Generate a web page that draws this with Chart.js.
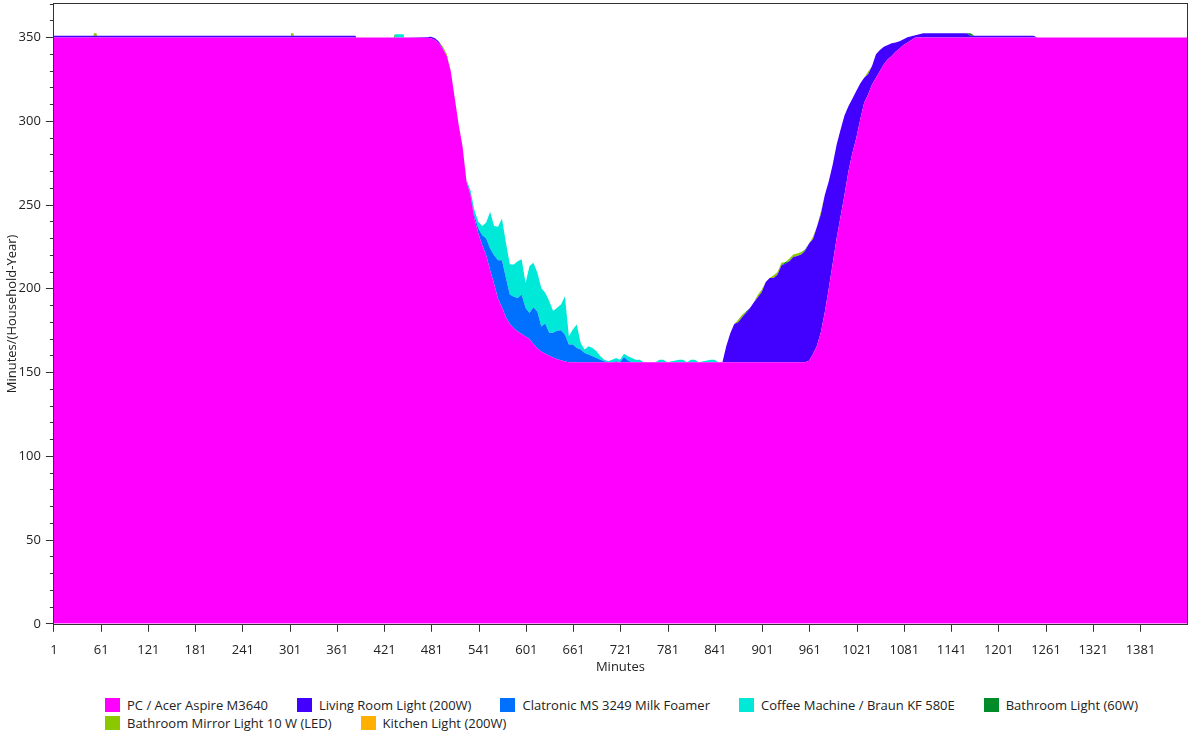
<!DOCTYPE html>
<html>
<head>
<meta charset="utf-8">
<script src="https://cdn.jsdelivr.net/npm/chart.js@4.4.1/dist/chart.umd.min.js"></script>
<style>
    body { margin: 0; background: #fff; font-family: "Open Sans", sans-serif; }
    #wrap { position: relative; width: 1188px; height: 679px; }
    #legend {
        position: absolute; top: 698px; left: 105px; width: 1080px;
        display: flex; flex-wrap: wrap; column-gap: 29px; row-gap: 3.5px;
        font-size: 13px; color: #222;
    }
    .item { display: flex; align-items: center; height: 14px; white-space: nowrap; }
    .box { width: 15px; height: 14px; margin-right: 7px; }
</style>
</head>
<body>
<div id="wrap"><canvas id="usageChart"></canvas></div>
<div id="legend"></div>

<script>
// Dakika noktaları (okunan değerler bu dakikalarda)
const minutes = [
    1, 51, 52, 55, 56, 301, 302, 305, 306, 384, 385, 433, 434, 445, 446, 476,
    480, 485, 490, 495, 500, 505, 510, 515, 520, 525,
    530, 535, 540, 545, 550, 555, 560, 565, 570, 575,
    580, 585, 590, 595, 600, 605, 610, 615, 620, 625,
    630, 635, 640, 645, 650, 655, 660, 665, 670, 675,
    680, 685, 690, 695, 700, 705, 710, 715, 720, 725,
    730, 735, 740, 745, 750,
    755, 760, 765, 770, 775, 780, 795, 800, 805, 810, 815, 820, 835, 840, 845,
    850, 855, 860, 865, 870, 875, 880, 885, 890, 895,
    900, 905, 910, 915, 920, 925, 930, 935, 940, 945,
    950, 955, 960, 965, 970, 975, 980, 985, 990, 995,
    1000, 1005, 1010, 1015, 1020, 1025, 1030, 1035, 1040, 1045,
    1050, 1055, 1060, 1065, 1070, 1075, 1080, 1085, 1090, 1095,
    1100,
    1105, 1160, 1165, 1170, 1245, 1250, 1440
];

const pcAcer = [
    350, 350, 350, 350, 350, 350, 350, 350, 350, 350, 350, 350, 350, 350, 350, 349.8,
    349.5, 348.5, 346.5, 343, 339, 330, 314, 298, 285, 264,
    256, 242, 233, 226, 220, 211, 203, 194, 189, 183,
    179, 176.5, 174.5, 173, 171.5, 170, 167, 164.5, 162.5, 161.2,
    160, 159, 158, 157.3, 156.6, 156.2, 156.2, 156.2, 156.2, 156.2,
    156.2, 156.2, 156.2, 156.2, 156.2, 156.2, 156.2, 156.2, 156.2, 156.2,
    156.2, 156.2, 156.2, 156.2, 156.2,
    156.2, 156.2, 156.2, 156.2, 156.2, 156.2, 156.2, 156.2, 156.2, 156.2, 156.2, 156.2, 156.2, 156.2, 156.2,
    156.2, 156.2, 156.2, 156.2, 156.2, 156.2, 156.2, 156.2, 156.2, 156.2,
    156.2, 156.2, 156.2, 156.2, 156.2, 156.2, 156.2, 156.2, 156.2, 156.2,
    156.2, 156.2, 157, 161, 166, 174, 186, 200, 215, 230,
    243, 256, 270, 281, 290, 301, 311, 316, 322, 326,
    330, 334, 337, 339, 341.5, 343.5, 345.5, 347, 348.5, 350,
    350,
    350, 350, 350, 350, 350, 350, 350
];

const livingRoomLight = [
    1, 1, 1, 1, 1, 1, 1, 1, 1, 1, 0, 0, 0, 0, 0, 0.5,
    1, 1, 1, 0.5, 0, 0, 0, 0, 0, 0,
    0, 0, 0, 0, 0, 0, 0, 0, 0, 0,
    0, 0, 0, 0, 0, 0, 0, 0, 0, 0,
    0, 0, 0, 0, 0, 0, 0, 0, 0, 0,
    0, 0, 0, 0, 0, 0, 0, 0, 0, 0,
    0, 0, 0, 0, 0,
    0, 0, 0, 0, 0, 0, 0, 0, 0, 0, 0, 0, 0, 0, 0,
    0, 9.8, 17.3, 22.8, 23.8, 26.8, 29.3, 32.3, 35.8, 38.8,
    41.8, 47.8, 50.3, 50.3, 52.3, 57.8, 58.8, 60.3, 62.8, 63.3,
    64.3, 66.3, 70, 68.5, 71, 70.5, 70, 64, 59, 56,
    52, 47.5, 39, 32.5, 28, 21.5, 15, 12, 11, 14,
    12.5, 10.5, 8.5, 7.5, 5.5, 4.3, 3.5, 3.2, 2.3, 1.4,
    2,
    2.6, 2.6, 1, 1, 1, 0, 0
];

const milkFoamer = [
    0, 0, 0, 0, 0, 0, 0, 0, 0, 0, 0, 0, 0, 0, 0, 0,
    0, 0, 0, 0, 0, 0, 0, 0, 0, 0,
    1, 2, 3, 6, 10, 13, 17, 23, 28, 23.6,
    17.6, 18.7, 20, 23.6, 17, 15.6, 22, 22, 15, 18,
    13.7, 14.7, 17, 18, 16, 10.5, 10.5, 8.5, 7.5, 5.5,
    4.5, 3.5, 2.5, 1.5, 0.5, 0, 0, 0.5, 0, 3,
    1, 0, 0, 0, 0,
    0, 0, 0, 0, 0, 0, 0, 0, 0, 0, 0, 0, 0, 0, 0,
    0, 0, 0, 0, 0, 0, 0, 0, 0, 0,
    0, 0, 0, 0, 0, 0, 0, 0, 0, 0,
    0, 0, 0, 0, 0, 0, 0, 0, 0, 0,
    0, 0, 0, 0, 0, 0, 0, 0, 0, 0,
    0, 0, 0, 0, 0, 0, 0, 0, 0, 0,
    0,
    0, 0, 0, 0, 0, 0, 0
];

const coffeeMachine = [
    0, 0, 0, 0, 0, 0, 0, 0, 0, 0, 0, 0, 2, 2, 0, 0,
    0, 0, 0, 0, 0, 0, 0, 0, 0, 1,
    2, 3, 4, 5.5, 9.5, 22, 17.5, 20, 25, 21,
    18, 19.3, 22, 21, 15, 28, 26.5, 23, 23, 18.4,
    19, 13, 13.6, 15.3, 23, 5, 9, 14, 4, 2,
    5, 5, 4, 2, 1, 0.5, 1.5, 2, 1.5, 2,
    2.5, 2.5, 1.5, 1.5, 0,
    0, 0, 0, 1.5, 1.5, 0, 1.5, 1.5, 0, 1.5, 1.5, 0, 1.5, 1.5, 0,
    0, 0, 0, 0, 0, 0, 0, 0, 0, 0,
    0, 0, 0, 0, 0, 0, 0, 0, 0, 0,
    0, 0, 0, 0, 0, 0, 0, 0, 0, 0,
    0, 0, 0, 0, 0, 0, 0, 0, 0, 0,
    0, 0, 0, 0, 0, 0, 0, 0, 0, 0,
    0,
    0, 0, 0, 0, 0, 0, 0
];

const bathroomLight = [
    0, 0, 0, 0, 0, 0, 0, 0, 0, 0, 0, 0, 0, 0, 0, 0,
    0, 0, 0, 0, 0, 0, 0, 0, 0, 0,
    0, 0, 0, 0, 0, 0, 0, 0, 0, 0,
    0, 0, 0, 0, 0, 0, 0, 0, 0, 0,
    0, 0, 0, 0, 0, 0, 0, 0, 0, 0,
    0, 0, 0, 0, 0, 0, 0, 0, 0, 0,
    0, 0, 0, 0, 0,
    0, 0, 0, 0, 0, 0, 0, 0, 0, 0, 0, 0, 0, 0, 0,
    0, 0, 0, 0, 0, 0, 1, 0, 0, 0,
    0, 0, 0, 0, 0, 0, 1, 0, 0, 0,
    0, 1, 0, 0, 0, 0, 0, 0, 0, 0,
    0, 0, 0, 0, 0, 0, 0, 0, 0, 0,
    0, 0, 0, 0, 0, 0, 0, 0, 0, 0,
    0,
    0, 0, 1.5, 0, 0, 0, 0
];

const mirrorLight = [
    0, 0, 1.5, 1.5, 0, 0, 1.5, 1.5, 0, 0, 0, 0, 0, 0, 0, 0,
    0, 0, 0, 1, 1, 0, 0, 0, 0, 0,
    0, 0, 0, 0, 0, 0, 0, 0, 0, 0,
    0, 0, 0, 0, 0, 0, 0, 0, 0, 0,
    0, 0, 0, 0, 0, 0, 0, 0, 0, 0,
    0, 0, 0, 0, 0, 0, 0, 0, 0, 0,
    0, 0, 0, 0, 0,
    0, 0, 0, 0, 0, 0, 0, 0, 0, 0, 0, 0, 0, 0, 0,
    0, 0, 0, 0, 1.5, 1.5, 0, 0, 0, 1.5,
    1.5, 0, 0, 1.5, 1.5, 1.5, 0, 1.5, 1.5, 1.5,
    1.5, 0, 0, 1.5, 0, 1.5, 0, 0, 0, 0,
    0, 0, 0, 0, 0, 0, 0, 1.5, 0, 0,
    0, 0, 0, 0, 0, 0, 0, 0, 0, 0,
    0,
    0, 0, 0, 0, 0, 0, 0
];

// Mutfak ışığı grafikte görünmüyor
const kitchenLight = [];

const minuteTicks = [1, 61, 121, 181, 241, 301, 361, 421, 481, 541, 601, 661,
    721, 781, 841, 901, 961, 1021, 1081, 1141, 1201, 1261, 1321, 1381];

const series = [
    ['PC / Acer Aspire M3640', pcAcer, '#ff00ff'],
    ['Living Room Light (200W)', livingRoomLight, '#4200ff'],
    ['Clatronic MS 3249 Milk Foamer', milkFoamer, '#0070ff'],
    ['Coffee Machine / Braun KF 580E', coffeeMachine, '#00e8d8'],
    ['Bathroom Light (60W)', bathroomLight, '#008c28'],
    ['Bathroom Mirror Light 10 W (LED)', mirrorLight, '#8cc800'],
    ['Kitchen Light (200W)', kitchenLight, '#ffb000']
];

const textColor = '#222';
const lineColor = '#333';
const tickFont = { family: 'Open Sans', size: 13 };

// Grafik çerçevesi (üst ve sağ kenar dahil)
const framePlugin = {
    id: 'frame',
    afterDraw(chart) {
        const { ctx, chartArea: a } = chart;
        ctx.save();
        ctx.strokeStyle = lineColor;
        ctx.lineWidth = 1;
        ctx.strokeRect(Math.round(a.left) - 0.5, Math.round(a.top) - 0.5,
            Math.round(a.right) - Math.round(a.left) + 1, Math.round(a.bottom) - Math.round(a.top) + 1);
        ctx.restore();
    }
};

const chart = new Chart(document.getElementById('usageChart'), {
    type: 'line',
    data: {
        labels: minutes,
        datasets: series.map(([label, data, color], i) => ({
            label,
            data,
            backgroundColor: color,
            borderColor: 'rgba(0,0,0,0)',
            borderWidth: 0,
            pointRadius: 0,
            fill: i === 0 ? 'origin' : '-1'
        }))
    },
    options: {
        responsive: true,
        maintainAspectRatio: false,
        animation: false,
        layout: { padding: { left: 0, top: 0, right: 1, bottom: 0 } },
        plugins: { legend: { display: false }, tooltip: { enabled: false } },
        scales: {
            x: {
                type: 'linear',
                min: 1,
                max: 1440,
                afterBuildTicks: scale => { scale.ticks = minuteTicks.map(v => ({ value: v })); },
                ticks: {
                    autoSkip: false, maxRotation: 0, padding: 10.5,
                    color: textColor, font: tickFont,
                    callback: v => String(v)
                },
                grid: { drawOnChartArea: false, tickLength: 8, tickColor: lineColor },
                border: { display: false },
                title: {
                    display: true, text: 'Minutes', color: textColor,
                    font: tickFont, padding: { top: -9, bottom: 4 }
                }
            },
            y: {
                stacked: true,
                min: 0,
                max: 370,
                afterFit: scale => { scale.paddingTop = 4; },
                ticks: {
                    stepSize: 10, autoSkip: false, padding: 5,
                    color: textColor, font: tickFont,
                    callback: v => (v % 50 === 0 ? String(v) : '')
                },
                grid: {
                    drawOnChartArea: false, tickLength: 8, tickColor: lineColor,
                    tickBorderDash: ctx => (ctx.tick && ctx.tick.value % 50 === 0 ? [] : [0, 4, 4])
                },
                border: { display: false },
                title: {
                    display: true, text: 'Minutes/(Household-Year)', color: textColor,
                    font: tickFont, padding: { top: 4, bottom: -6 }
                }
            }
        }
    },
    plugins: [framePlugin]
});

// HTML lejant
const legend = document.getElementById('legend');
chart.data.datasets.forEach(ds => {
    const item = document.createElement('div');
    item.className = 'item';
    item.innerHTML = `<span class="box" style="background:${ds.backgroundColor}"></span>${ds.label}`;
    legend.appendChild(item);
});
</script>
</body>
</html>
